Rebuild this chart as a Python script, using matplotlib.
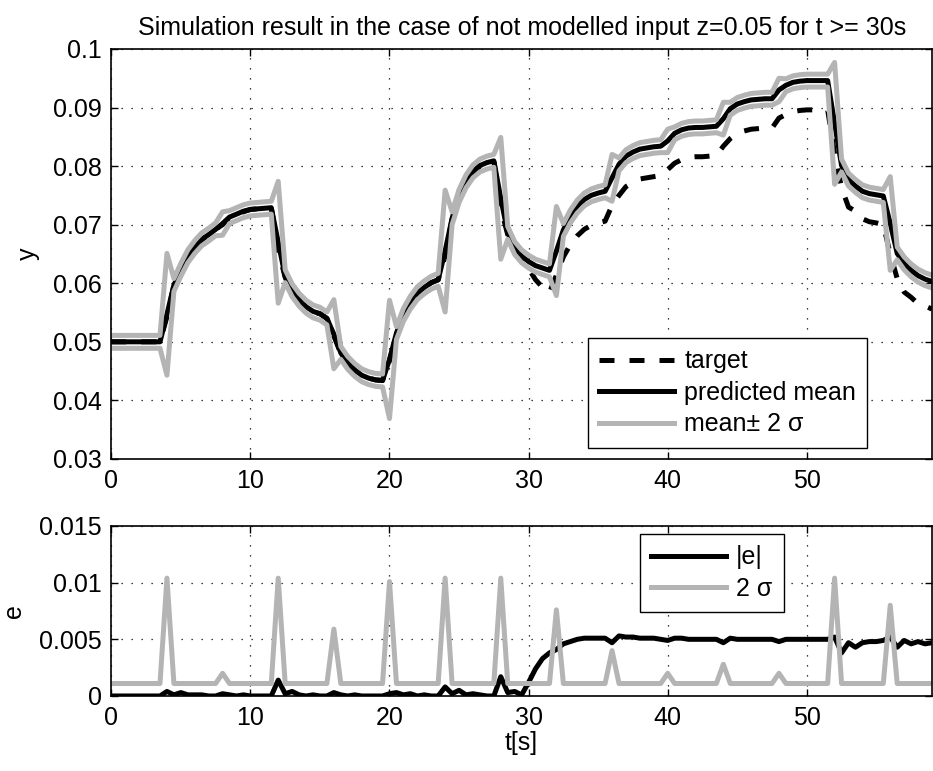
import numpy as np
import matplotlib
matplotlib.use("Agg")
import matplotlib.pyplot as plt
from matplotlib.ticker import FuncFormatter

plt.rcParams['font.family'] = ['Liberation Sans', 'DejaVu Sans']

# ---- data (sampled every 0.5 s) ----
t = np.arange(0, 59.01, 0.5)

mean = [
    0.0500, 0.0500, 0.0500, 0.0500, 0.0500, 0.0500, 0.0500, 0.0500,   # 0 - 3.5
    0.0547, 0.0597, 0.0623, 0.0646, 0.0662, 0.0675, 0.0683, 0.0692,   # 4 - 7.5
    0.0702, 0.0713, 0.0718, 0.0723, 0.0726, 0.0727, 0.0728, 0.0729,   # 8 - 11.5
    0.0670, 0.0612, 0.0588, 0.0572, 0.0560, 0.0552, 0.0548, 0.0540,   # 12 - 15.5
    0.0513, 0.0481, 0.0464, 0.0452, 0.0443, 0.0438, 0.0435, 0.0434,   # 16 - 19.5
    0.0470, 0.0515, 0.0546, 0.0567, 0.0583, 0.0593, 0.0601, 0.0606,   # 20 - 23.5
    0.0655, 0.0711, 0.0749, 0.0774, 0.0791, 0.0801, 0.0806, 0.0809,   # 24 - 27.5
    0.0745, 0.0686, 0.0660, 0.0646, 0.0637, 0.0630, 0.0626, 0.0622,   # 28 - 31.5
    0.0655, 0.0691, 0.0714, 0.0731, 0.0743, 0.0750, 0.0754, 0.0757,   # 32 - 35.5
    0.0780, 0.0803, 0.0817, 0.0824, 0.0829, 0.0831, 0.0833, 0.0834,   # 36 - 39.5
    0.0843, 0.0856, 0.0862, 0.0865, 0.0866, 0.0866, 0.0867, 0.0868,   # 40 - 43.5
    0.0881, 0.0898, 0.0906, 0.0910, 0.0913, 0.0914, 0.0915, 0.0915,   # 44 - 47.5
    0.0930, 0.0938, 0.0943, 0.0945, 0.0946, 0.0946, 0.0946, 0.0946,   # 48 - 51.5
    0.0873, 0.0801, 0.0777, 0.0766, 0.0757, 0.0753, 0.0751, 0.0749,   # 52 - 55.5
    0.0702, 0.0651, 0.0634, 0.0622, 0.0613, 0.0607, 0.0603,           # 56 - 59
]

two_sigma = [
    0.0011, 0.0011, 0.0011, 0.0011, 0.0011, 0.0011, 0.0011, 0.0011,
    0.0104, 0.0011, 0.0011, 0.0011, 0.0011, 0.0011, 0.0011, 0.0011,
    0.0020, 0.0011, 0.0011, 0.0011, 0.0011, 0.0011, 0.0011, 0.0011,
    0.0104, 0.0011, 0.0011, 0.0011, 0.0011, 0.0011, 0.0011, 0.0011,
    0.0059, 0.0011, 0.0011, 0.0011, 0.0011, 0.0011, 0.0011, 0.0011,
    0.0101, 0.0011, 0.0011, 0.0011, 0.0011, 0.0011, 0.0011, 0.0011,
    0.0104, 0.0011, 0.0011, 0.0011, 0.0011, 0.0011, 0.0011, 0.0011,
    0.0104, 0.0011, 0.0011, 0.0011, 0.0011, 0.0011, 0.0011, 0.0011,
    0.0076, 0.0011, 0.0011, 0.0011, 0.0011, 0.0011, 0.0011, 0.0011,
    0.0040, 0.0011, 0.0011, 0.0011, 0.0011, 0.0011, 0.0011, 0.0011,
    0.0020, 0.0011, 0.0011, 0.0011, 0.0011, 0.0011, 0.0011, 0.0011,
    0.0028, 0.0011, 0.0011, 0.0011, 0.0011, 0.0011, 0.0011, 0.0011,
    0.0020, 0.0011, 0.0011, 0.0011, 0.0011, 0.0011, 0.0011, 0.0011,
    0.0104, 0.0011, 0.0011, 0.0011, 0.0011, 0.0011, 0.0011, 0.0011,
    0.0080, 0.0011, 0.0011, 0.0011, 0.0011, 0.0011, 0.0011,
]

# prediction error (mean - target)
err = [
    0.0000, 0.0000, 0.0000, 0.0000, 0.0000, 0.0000, 0.0000, 0.0000,
    0.0004, 0.0001, 0.0003, 0.0001, 0.0001, 0.0001, 0.0000, 0.0000,
    0.0002, 0.0001, 0.0000, 0.0001, 0.0000, 0.0000, 0.0000, 0.0000,
    0.0014, 0.0002, 0.0004, 0.0001, 0.0000, 0.0001, 0.0000, 0.0000,
    0.0003, 0.0001, 0.0000, 0.0001, 0.0000, 0.0000, 0.0000, 0.0000,
    0.0002, 0.0003, 0.0001, 0.0002, 0.0000, 0.0001, 0.0000, 0.0000,
    0.0008, 0.0002, 0.0005, 0.0001, 0.0002, 0.0001, 0.0000, 0.0000,
    0.0017, 0.0003, 0.0004, 0.0001, 0.0012, 0.0024, 0.0033, 0.0038,
    0.0041, 0.0046, 0.0048, 0.0050, 0.0051, 0.0051, 0.0051, 0.0051,
    0.0047, 0.0053, 0.0052, 0.0052, 0.0051, 0.0051, 0.0051, 0.0050,
    0.0049, 0.0051, 0.0051, 0.0050, 0.0050, 0.0050, 0.0050, 0.0050,
    0.0047, 0.0051, 0.0050, 0.0050, 0.0050, 0.0050, 0.0050, 0.0050,
    0.0048, 0.0050, 0.0050, 0.0050, 0.0050, 0.0050, 0.0050, 0.0050,
    0.0052, 0.0038, 0.0047, 0.0043, 0.0047, 0.0048, 0.0048, 0.0049,
    0.0052, 0.0043, 0.0049, 0.0046, 0.0048, 0.0046, 0.0047,
]

mean = np.array(mean)
two_sigma = np.array(two_sigma)
err = np.array(err)
target = mean - err
upper = mean + two_sigma
lower = mean - two_sigma
abs_e = np.abs(err)

title = "Simulation result in the case of not modelled input z=0.05 for t >= 30s"
xticks = [0, 10, 20, 30, 40, 50]
yticks_top = [0.03, 0.04, 0.05, 0.06, 0.07, 0.08, 0.09, 0.1]
yticks_bot = [0, 0.005, 0.01, 0.015]

GRAY = '#b4b4b4'
FS = 18
LW = 3.6

fig = plt.figure(figsize=(9.33, 7.71), dpi=100)
ax1 = fig.add_axes([0.1193, 0.4047, 0.8796, 0.5318])
ax2 = fig.add_axes([0.1193, 0.0973, 0.8796, 0.2205])

fmt = FuncFormatter(lambda v, p: '%g' % round(v, 6))

def style(ax, yticks, ylim):
    ax.set_xlim(0, 59)
    ax.set_ylim(*ylim)
    ax.set_xticks(xticks)
    ax.set_yticks(yticks)
    ax.yaxis.set_major_formatter(fmt)
    ax.xaxis.set_major_formatter(fmt)
    ax.tick_params(direction='in', length=5, width=1.0, top=True, right=True,
                   labelsize=FS, pad=7)
    ax.tick_params(axis='x', pad=7)
    for s in ax.spines.values():
        s.set_linewidth(1.2)
    ax.grid(True, color='black', linestyle=(0, (1, 7)), linewidth=0.9)
    ax.set_axisbelow(True)

# top panel
ax1.plot(t, target, color='black', lw=LW, linestyle=(0, (3, 3)),
         dash_capstyle='butt', label='target')
ax1.plot(t, mean, color='black', lw=LW, label='predicted mean')
ax1.plot(t, upper, color=GRAY, lw=LW, label='mean\u00b1 2 \u03c3')
ax1.plot(t, lower, color=GRAY, lw=LW)
style(ax1, yticks_top, (0.03, 0.1))
ax1.set_title(title, fontsize=FS, pad=10)
ax1.set_ylabel('y', fontsize=FS)
ax1.yaxis.set_label_coords(-0.087, 0.5)

leg_kw = dict(bbox_transform=fig.transFigure, borderaxespad=0,
              fontsize=FS, handlelength=3.0, handletextpad=0.4,
              labelspacing=0.3, borderpad=0.45, fancybox=False,
              framealpha=1, edgecolor='black')

leg1 = ax1.legend(loc='upper left', bbox_to_anchor=(588 / 933, 1 - 338 / 771),
                  **leg_kw)
leg1.get_frame().set_linewidth(1.0)

# bottom panel
ax2.plot(t, abs_e, color='black', lw=LW, label='|e|')
ax2.plot(t, two_sigma, color=GRAY, lw=LW, label='2 \u03c3')
style(ax2, yticks_bot, (0, 0.015))
ax2.set_ylabel('e', fontsize=FS)
ax2.yaxis.set_label_coords(-0.104, 0.5)
ax2.set_xlabel('t[s]', fontsize=FS, labelpad=1)

leg2 = ax2.legend(loc='upper left', bbox_to_anchor=(640 / 933, 1 - 534 / 771),
                  **leg_kw)
leg2.get_frame().set_linewidth(1.0)

fig.savefig('out.png', dpi=100)
